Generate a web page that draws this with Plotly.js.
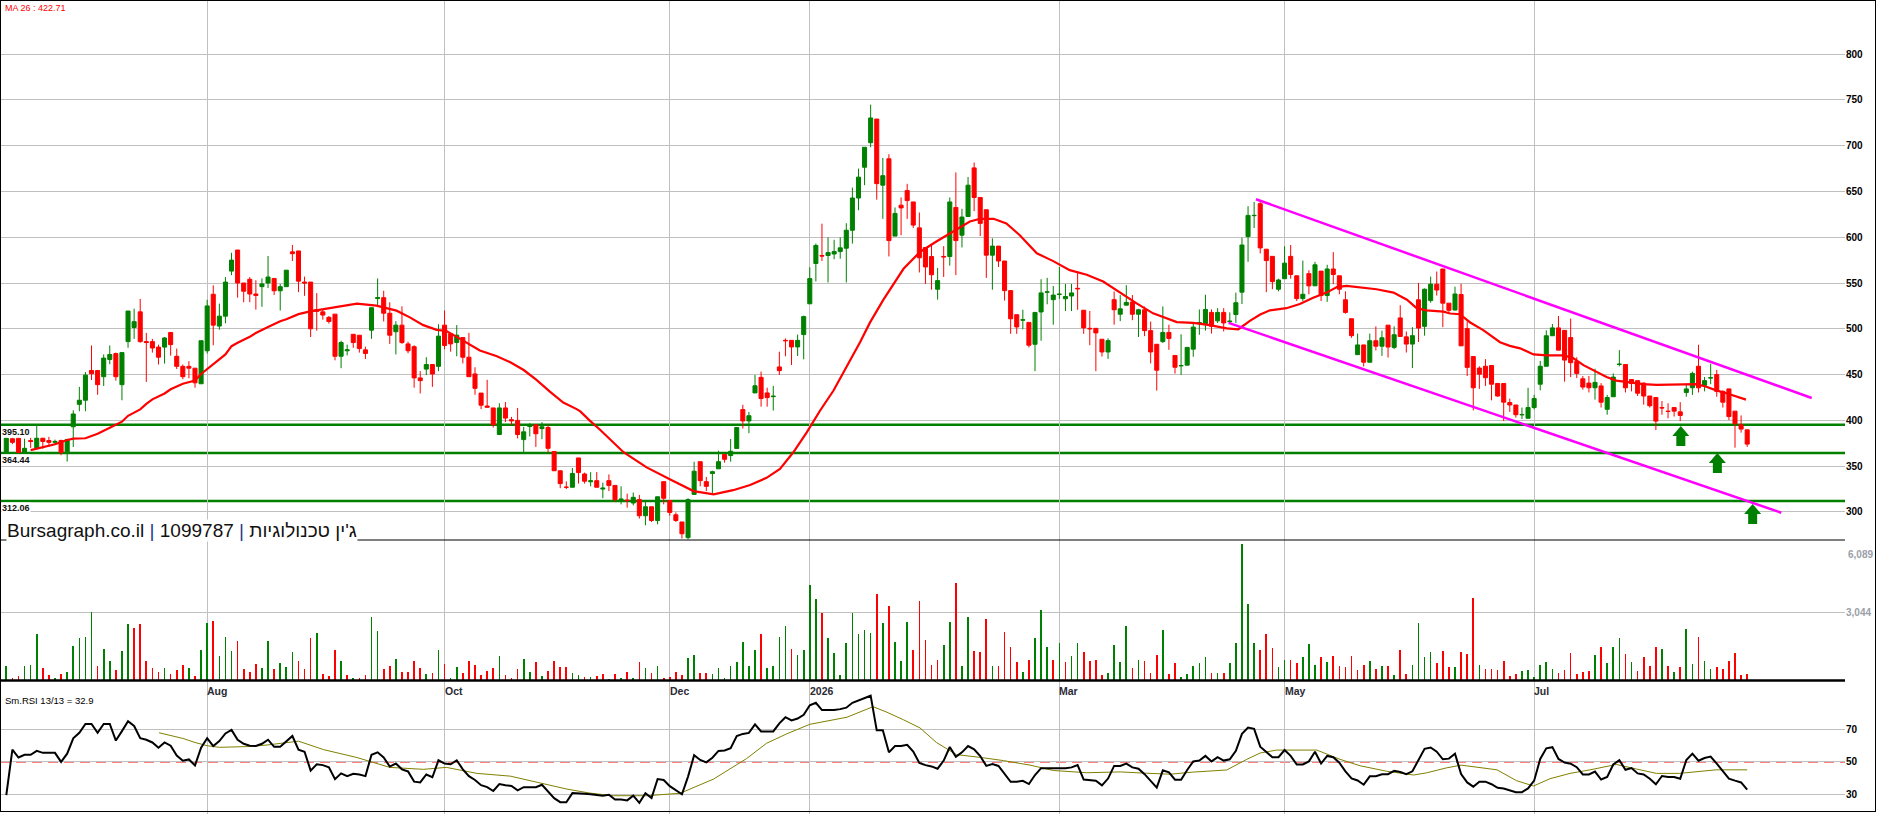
<!DOCTYPE html>
<html><head><meta charset="utf-8">
<script src="https://cdn.plot.ly/plotly-3.0.1.min.js"></script>
<style>
html,body{margin:0;padding:0;background:#fff;}
#wrap{position:relative;width:1880px;height:814px;overflow:hidden;}
#chart{position:absolute;left:0;top:0;width:1880px;height:814px;}
#frame{position:absolute;left:0;top:0;width:1874px;height:810px;border:1.5px solid #000;pointer-events:none;}
</style></head>
<body><div id="wrap"><div id="chart"></div><div id="frame"></div></div>
<script>
// ---------------- data ----------------
const openP = [365,380,380.5,365,378,369.5,380.5,378,376,378,365,393,417.5,422,454.5,454.5,447.7,466.5,472.9,439,
486,501.4,518.5,486,486,480,480,496,470,459,459,457,440,476,537.7,503,513.8,563,586,550,
554,538,546,550,555,541.5,546,584,585,551,551,521,518.5,512.5,516,470,476,494,493,477,
498.5,533,534,517,496.8,504,483.5,480.5,446.4,456,461,459,504,494.6,485,490.4,469,450.7,429.8,415.7,
413.6,384.6,413.6,400.8,400,379,393.4,395.2,391,392.2,366,345,327,327,359,341.5,333,334.2,325,334.2,
329,313,313,309.8,313.5,295.9,305.7,290.7,333.1,312.4,296.9,289.1,272,319.2,354.9,333.1,342,347.1,362.7,361.6,
369.4,411.8,399.4,430,447,430,425.9,458.4,487.4,487.4,480.2,493.7,527.3,571.3,580,580,581.7,584.3,588,607.6,
642.8,676.4,703.2,729,656.8,685.6,601.2,635,650.9,638.5,610.2,588.8,578.9,543.2,579,578.9,632.5,602.2,622.6,675.7,
643.4,630,580.4,590.3,574,541.7,515.4,509.4,507,483.1,518.4,540,531.8,537.5,532.8,535.8,544.2,520.3,500.5,500.5,
488.6,474.7,531.8,515.9,525.8,529.3,515.9,520.8,498,483.1,486,496,470.9,459.5,460.3,477.8,506.3,505.4,517.9,508.7,
517.9,507.7,515.6,540,600.7,623.5,636.6,586.9,579.1,543.2,554.7,579.1,557.9,533,560.2,546.9,563,536.3,565.3,557.9,
531.7,511,471.8,482.4,463.5,487,481,504,479.7,511.9,491.2,483.3,531.7,502.7,530.8,548.7,565.3,528,520.5,537.5,
500.2,469.7,457.1,459.1,459.9,440.3,440.3,419.5,416.8,406,402.3,414,439.5,459.1,492.4,501,498.3,490.4,464.2,445.4,
440.7,435.6,437.6,412.1,425.8,461,461,444.6,443.4,440.7,426.6,425,414,410.1,414,409.3,430.5,435.6,459.1,438.3,
446.2,450.1,431.7,434.4,410.1,395.2,389.7];

const highP = [381,381,381,380,381,395,381,382,379,379,380,411,436.6,452.8,481.8,455,472,481.8,474,474,
519.4,522,532.6,495.5,489,482.7,491,496,478.4,461,464.7,457,487,531.7,547.5,527.5,556.5,583,586,550,
556.5,553,555,579.5,555,549,564,591.5,585,557,551,539,521,514,516,487,482.7,494,493,480.5,
523,555,541.5,529,508.3,524.5,486,482,453.7,469,461,505,520,494.6,504,490.4,495.5,458,429.8,444.3,
413.6,418.7,420,403.8,413.6,393,397,395.2,398,395.2,366,345,333.4,348,359,343,343.5,343.5,332,341,
329,328,320,321.2,318.6,311.4,305.7,316.6,333.1,312.4,299.5,289.1,315,354.9,354.9,338.3,345,366.8,362.7,379.7,
392.2,417,409.3,449.6,453.3,435.7,437.7,475,489.5,487.4,493.7,514.4,567.2,593,614.8,599.8,597.2,599.8,615.3,654.2,
674.9,698.2,744.7,729,686.6,690.6,632.5,643.4,658.3,638.5,627,588.8,591.3,566.5,590.3,643.4,670.7,631,665.8,681.6,
643.4,630,598.8,590.3,574,541.7,515.4,520.8,507,517.9,554.1,555.6,546.7,567.5,549,549,562.5,520.3,519.4,500.5,
488.6,489.6,540.7,536.8,547.7,536.8,521.8,524.3,507.9,483.1,524.5,504.5,470.9,494,479.7,507.3,521.1,537.2,521.1,522.5,
522.5,517.9,539.5,599.4,633.9,638.5,638.5,586.9,579.1,554.7,590.1,591.5,557.9,574.5,563.9,573.1,563,569.9,583.7,557.9,
540.9,511,494.8,482.4,494.8,502.7,498,504,502.7,525.7,497.1,501.8,550.1,544.1,557,562.5,565.3,528,546,549.2,
508,469.7,459.1,466.9,459.9,440.3,440.3,423.8,416.8,414,435.6,427.8,465,498.3,505.3,514,498.3,511.2,468.9,448.5,
448.5,456.4,440.7,427.8,451.3,476.7,461,444.6,443.4,441.5,426.6,425,421.1,418.7,414,419.9,439.5,453.2,482.6,447.3,
461.8,455.2,432.8,434.4,410.1,405.4,389.7];

const lowP = [364,374,364,364,370,368,369,371,374,362,355,371,410,410,444,428,437.5,461.3,443.4,422,
479.3,489,484.8,442,474,461,462,470.7,456,445,446,435.7,440,473,482,499,506,558.6,534,529,
529,521,524,544.5,537,520,546,574,540,536,491,498,510,505.7,465.6,457,471,479.3,474,467,
489,526,508,483.5,472,483.5,473.3,435.7,429.4,449.4,436.6,453.7,477.6,475,470,462.2,447.7,428,412.3,414.4,
392.2,384.6,398.2,395,380.3,365,382.4,371,379.5,365,345,326,325,327,331,331,328,327,315,322.8,
311.4,308.3,304.7,307.2,292.8,285.5,289.1,286.5,308.3,295.9,289.1,271,270,319.2,328,322.8,320,347.1,353.9,354.9,
369.4,391.1,386,430,415,415,410.8,449.6,470,460.5,470.3,466.7,527.3,551.7,574,550.6,576,576.5,550.6,593,
629.4,656.8,698.2,641,620,579,601.2,602.2,620,610.2,561.5,549,542.7,531.8,556.6,569,558.6,588.8,622.6,628.5,
601.2,555.6,542.7,567.5,530.8,494.5,494.5,499.5,479.6,453.8,487,526.8,504.5,532.8,519.4,519.4,520.8,494.5,482.1,453.8,
469.7,467.2,504.5,508.4,525.8,509.4,491,492,462.2,432.5,484.5,477,451.1,449.7,460.3,469.5,493.5,498,494.9,506.4,
497.1,505.4,506.4,527,573.1,610,582.3,540,543.2,540.9,554.7,554.7,530.3,530.3,537.7,546.9,530.3,529.4,548.7,537.7,
516.5,490.2,471.8,458.9,463.5,476.4,470.4,468.6,477.8,491.6,474.1,457.1,485.6,492.5,528.5,536.3,501.8,517.9,520,481.4,
448.5,410.9,434.4,437.6,421.9,425.8,399.2,409.3,403.1,401.5,402.3,412.1,432.8,459.1,492.4,476.7,442.3,447.3,446.2,433.6,
430.5,422.7,414,406.2,425.8,459,430.5,431.7,426.6,417.2,414,389.4,406.2,402.3,404.2,399.2,425.8,427.8,430.5,431.7,
439.5,425.8,414,400.3,370.2,386.6,371];

const closeP = [380.5,376,365,369.5,377,380.5,377,376,377,365,379,407,422,449.4,451,439,468,472,447.7,474,
519.4,507.8,486,485,479,469,490,482.7,459,447.7,457,441,487,525,504,513.8,551,575,550,541,
538,536.4,549,556.5,541.5,546,564,582,552,550,500,519,515,508,470,485,477,485,478.4,473,
523,534,517,493,504,485,476,446.4,443.4,461,450.7,492,481.8,483.5,493,469,447.7,435,416.6,414.4,
395.2,413.6,402.5,399.5,384.6,387.5,394,385.4,393,369.5,345,331,327,342,343,333.6,334,327,326,329,
313.5,314,312.4,316,295.9,305.7,290.7,316.6,315,299.5,290.7,276.2,313.5,344.5,334.2,328,344,354.9,357.5,366.3,
392.2,399.4,405.1,437.8,423.8,424.9,426.4,454.3,487,480.2,487.4,513.3,554.8,591,579.5,583.2,584.3,588.4,607.6,642.8,
665.6,698.2,730.2,658.5,667.2,596.3,626,632,640,613.2,577.5,567.5,559,552.6,578.5,638.5,596.3,622,656.8,643.4,
615.1,580.4,590.3,574,541.7,510.9,502,509.9,482.1,517.9,539.2,540.2,536.8,537.8,535.3,539.2,543.7,501,500,495.5,
474.7,487.1,520.8,521.8,528.8,515.9,520.8,498,474.7,454.8,496,489.5,458,459.9,479.7,501.8,506.7,521.1,502.7,517.9,
506.4,508.3,528.5,591.5,623.8,623.8,588.3,574.5,551.5,553.3,571.7,559.3,533,537.7,546.9,569.9,536.3,565.3,559.3,543.2,
517.9,492.5,482.4,463.5,487,481,490.2,480.1,493.5,491.6,483.3,492.5,500.8,543.2,548.7,542.3,528,520.2,538,481.4,
457.9,435.6,450.5,446.6,439.5,426.6,419.9,416.8,406.2,406.4,414,423.8,459.1,492.4,501,476.7,465.8,463,451.3,436.4,
435.6,441.5,419.9,425,447.3,461.4,435.6,440.3,429.7,426.6,416,399.2,413.6,409.7,410.1,405.4,434.4,451.3,435.6,443.4,
446.6,431.7,419.9,404.2,396.4,390.5,374.1];

const volume = [630,105,175,630,680,2064,542,227,105,280,367,1539,1889,1924,3043,630,1382,857,455,1294,
2501,2326,2501,840,542,367,542,280,455,682,542,192,1347,2571,2623,1084,1924,1294,1749,490,
367,717,542,1749,490,770,595,1259,857,490,1889,2099,262,175,1347,857,227,105,105,227,
2816,2204,490,630,944,367,367,857,542,280,315,1347,717,105,577,315,857,682,227,402,
542,1084,227,105,490,944,367,805,157,402,857,577,577,315,227,120,150,172,257,43,
257,86,365,107,793,536,300,622,107,150,365,214,965,1115,300,300,257,536,107,622,
793,1715,622,1329,2080,536,622,1930,2401,1394,1115,1351,4267,3623,2980,1865,1222,214,1672,2980,
2080,2251,2100,3850,2536,3307,1704,852,2617,1359,3551,1806,690,913,1562,2577,4342,649,2820,1319,
1258,2719,609,609,2130,1461,791,345,893,1867,3145,1461,893,1664,812,1055,1664,1258,852,893,
203,304,1562,812,2435,548,893,852,304,1116,2260,250,761,152,247,628,780,1047,304,304,
304,780,1675,6089,3387,1675,1332,2055,1427,590,913,913,761,1009,1618,666,1009,818,1066,628,
590,1066,438,666,856,476,628,628,209,1332,285,666,2569,1009,1256,761,1294,590,560,1250,
1169,3653,657,497,497,449,849,176,256,417,449,128,657,817,497,320,449,1218,256,368,
384,1121,1490,769,1490,1890,1169,817,417,1009,641,1490,1410,641,368,561,2291,737,1938,849,
481,561,481,849,1218,240,288];

const rsi = [29.5,57.6,52.7,54.4,54.4,56.8,55.6,55.6,55.6,50,55.1,64.6,68,73.4,73.4,68,73.4,73.4,63.2,69,
75.1,72.2,64.6,63.7,62,58.8,62,60,53.9,50.7,51.5,47.8,58.8,64.6,59.8,62.9,67.6,69.8,63.7,61.2,
60,59.8,61.2,63.7,59.3,59.3,62.7,66,57.6,56.3,44.6,48.5,48,46.6,39.3,42.9,41.2,42.7,42.2,41.2,
54.4,55.9,52.7,47.1,49,45.4,44.1,37.8,37.3,42.2,40.5,51,49,48.5,51,45.4,41.2,38.8,35.6,34.4,
32,36.3,35.6,35.1,32.4,34.4,34.4,34.4,35.9,32,27.6,25.1,25.1,30.7,30.7,30.3,30,29.7,29.1,29.7,
26.8,26.8,26.2,29.1,24.7,30.6,27.7,39.4,38.8,35,32.7,30,40.9,54.1,51.2,49.7,52.6,56.8,57.1,58.5,
65.9,67.3,67.9,73.2,68.8,68.8,68.8,73.8,77.6,75.6,76.8,79.1,85,86.5,82,82,82,82.6,83.5,86.5,
87.9,89.4,90.9,69.5,69.6,55.9,59.8,59.8,60.6,56.4,49.4,48,47.2,45.8,50.8,59.2,53.1,55.9,59.8,57.8,
53.6,47.5,48.6,47.5,42.4,37.7,37.7,38.3,36.3,41.9,46.1,46.1,46.1,45.8,46.1,46.6,48,39.1,38.8,38.3,
35.5,39.7,47.5,47.5,48.9,46.6,45.8,42.4,38.3,34.1,44.8,43.5,39,39,45,50.3,50.8,53.7,50.3,52.9,
50.8,51.6,56.8,67.3,71.2,70.4,59.4,56.3,52.9,52.9,57.3,53.7,48.4,48.4,50.3,56.3,49,53.7,52.9,49.5,
44.2,39.8,38.5,35.9,41.1,41.1,42.4,42.4,44.5,43.7,42.4,44.2,51.6,58.1,58.9,56.3,51.6,52,55,42.5,
37.3,34.7,37.8,37.8,36.2,34,33.6,32.4,31.3,31.3,33.6,38.4,51.8,58.4,59.1,51.8,49.6,48.9,46.7,42.2,
42.2,44,39.1,40.7,48.4,51.1,45.1,46.2,42.9,42.2,39.6,36.2,41.3,40.7,40.7,39.6,51.1,55.1,50.7,52.4,
53.3,48.9,44,39.6,38.4,37.3,32.9];

// MA 26 read at sampled positions (candle index, value)
const maIdx = [4,6,8,10,11,13,15,17,18,19,20,22,23,24,26,27,29,31,32,34,36,37,38,40,41,43,45,46,48,
49.9,53.7,57.6,60.8,64.1,66.3,68.5,70.7,72.3,74,76.2,77.8,80.6,82.8,85,87.1,89.3,91.5,93.7,94.3,95.9,97.5,
101.4,105.2,109,112.9,116.2,119.4,122.2,124.9,127.1,129.3,131.5,133.7,135.9,138.1,140.3,141.9,144.1,147.4,150.1,
152.8,155.6,158.3,160,162.2,164.3,166.5,169.3,172,174.7,177.5,180.2,183,185.7,188.4,191.2,
192.3,195,197.7,200.5,202.4,204.3,206,207.6,210.3,212.5,214.7,216.9,218.6,220.2,222.4,225.1,227.9,230.1,231.7,233.3,236.1,
237.2,238.8,240.5,242.7,245.4,247,248.7,250.9,253.1,255.8,257.4,259.1,261.3,262.9,264.5,266.7,268.9,271.1,275.5,277.7,279.3,280.9,282.6,284.2,285.8];
const maVal = [367.5,370.9,373.9,378.6,380,380.5,385.5,392,395.2,398.6,405,412,418,423,429.4,434,440,443.4,450.7,461.3,472,481,484.8,491.2,495.5,501.9,508.3,510.4,516,
519,523.2,527.5,525.3,519.8,512.5,504,498.9,497.6,491.2,482.7,476.3,470,463.5,455,444.3,431.5,419.5,412.3,409.8,399.5,390.1,
365.2,348.7,335.7,322.8,319.2,323.8,329.5,337.3,347.1,365.2,387,410.8,432.6,459,485.9,507,531.8,565.5,583.9,
595.3,606.2,617.1,620.1,620.1,615.1,602.2,582.4,573.9,564,559,551.6,539.2,527.8,516.9,509.4,
507.3,506.4,504,500.4,499.5,508.7,515.6,520.2,522.5,527,534,539.5,545.5,546.9,545.5,543.2,539.5,531.7,522.5,520.2,518.8,
516.7,515.9,506.9,498.3,485.4,481.4,478.7,472,470.9,470.9,468.1,460.3,452.4,447.3,443.4,441.5,439.5,438.7,438.7,439.5,436.8,432.8,429.7,425.8,422.7];

// RSI signal line read at sampled positions
const sigIdx = [25.1,27,29,31,33,35,37,40,43,46,48,52.1,57.6,63,68.5,72.3,77.3,82.8,88.2,92.1,95.9,99.7,105.2,110.7,116.2,121.6,124.9,128.2,132,138.1,142.4,
144.6,147.4,150.1,152.8,156.1,160,163.8,168.2,172,177.5,183,187.3,191.2,195,200.5,203.8,206,208.7,215.3,219.1,222.4,226.8,231.2,233.3,236.6,239,
244.9,248.1,250.9,253.6,256.9,260.2,264.5,267.8,271.1,274.9,278.2,280.9,283.7,286];
const sigVal = [68,66.5,64.5,62,60,59,59.3,59.5,60.5,62,62.8,57.6,52.7,46.6,45.4,46.6,42.9,41.2,36.3,33.2,30.7,29.1,29.1,30.6,39.4,52,61.5,67.3,73.2,77.6,84.1,
80.8,76,71,62,54.5,52.8,50.8,48,44.7,43.3,43.8,43,42.4,43.7,45,51.6,55.5,57.3,57.3,51.6,47.6,44.2,41.9,43.2,46.3,48,
45.1,38.4,35.1,39.6,42.9,45.1,48.4,45.6,42.9,42.9,44,45.1,45.1,45.1];

// month ticks (candle index of first trading day) and labels
const monthIdx = [33,72,109,132,173,210,251];
const monthLabels = ['Aug','Oct','Dec','2026','Mar','May','Jul'];

// horizontal support levels
const levels = [395.10, 364.44, 312.06];
// descending channel (candle index, price)
const chanUpper = [[205.3,641.5],[296.6,424.5]];
const chanLower = [[200.8,506.5],[291.6,299.2]];
// green arrows: candle index and price at arrow tip
const arrowIdx = [275.1, 281.1, 286.9];
const arrowTip = [394, 364.5, 308.8];

const priceTicks = [300,350,400,450,500,550,600,650,700,750,800];
const volTicks = [3044];
const volMaxLabel = 6089;
const rsiTicks = [30,50,70];
const maLast = 422.71;
const rsiLast = 32.9;

// ---------------- drawing ----------------
const H = 814, PLOT_R = 1845;
const yPx = px => 1 - px / H;           // pixel row -> paper y
const GREEN = '#008000', RED = '#ff0000';
const xIdx = closeP.map((_, i) => i);
const volColors = closeP.map((c, i) => (i === 0 || c >= closeP[i - 1]) ? GREEN : RED);
const fmt = v => v.toLocaleString('en-US');

const traces = [
  {type:'candlestick', x:xIdx, open:openP, high:highP, low:lowP, close:closeP,
   xaxis:'x', yaxis:'y', whiskerwidth:0,
   increasing:{line:{color:GREEN, width:1}, fillcolor:GREEN},
   decreasing:{line:{color:RED, width:1}, fillcolor:RED}, hoverinfo:'skip'},
  {type:'scatter', mode:'lines', x:maIdx, y:maVal, xaxis:'x', yaxis:'y',
   line:{color:RED, width:2.2}, hoverinfo:'skip'},
  {type:'bar', x:xIdx, y:volume, xaxis:'x', yaxis:'y2', width:0.27,
   marker:{color:volColors, line:{width:0}}, hoverinfo:'skip'},
  {type:'scatter', mode:'lines', x:sigIdx, y:sigVal, xaxis:'x', yaxis:'y3',
   line:{color:'#808000', width:1}, hoverinfo:'skip'},
  {type:'scatter', mode:'lines', x:xIdx, y:rsi, xaxis:'x', yaxis:'y3',
   line:{color:'#000', width:2}, hoverinfo:'skip'}
];

const tickFont = {family:'Liberation Sans, Arial, sans-serif', size:10, color:'#000', weight:700};
const baseY = {side:'right', anchor:'x', showgrid:true, gridcolor:'#c0c0c0', gridwidth:1,
  zeroline:false, showline:false, ticks:'', automargin:false, fixedrange:true, tickfont:tickFont};

const shapes = [];
// support levels
levels.forEach(v => shapes.push({type:'line', xref:'paper', x0:0, x1:1, yref:'y', y0:v, y1:v,
  line:{color:GREEN, width:2.5}, layer:'between'}));
// channel
[chanUpper, chanLower].forEach(c => shapes.push({type:'line', xref:'x', yref:'y',
  x0:c[0][0], y0:c[0][1], x1:c[1][0], y1:c[1][1], line:{color:'#ff00ff', width:2.5}, layer:'above'}));
// arrows
arrowIdx.forEach((xi, i) => shapes.push({type:'path', xref:'x', yref:'y', xsizemode:'pixel', ysizemode:'pixel',
  xanchor:xi, yanchor:arrowTip[i],
  path:'M0,0 L8.5,-10 L4.5,-10 L4.5,-20 L-4.5,-20 L-4.5,-10 L-8.5,-10 Z',
  fillcolor:GREEN, line:{width:0}, layer:'above'}));
// RSI mid line
shapes.push({type:'line', xref:'paper', x0:0, x1:1, yref:'y3', y0:50, y1:50, line:{color:'#fff', width:2}, layer:'between'});
shapes.push({type:'line', xref:'paper', x0:0, x1:1, yref:'y3', y0:50, y1:50, line:{color:'#ff0000', width:1.3, dash:'10px,6px'}, layer:'between'});
// panel separators
shapes.push({type:'line', xref:'paper', x0:0, x1:1, yref:'paper', y0:yPx(540), y1:yPx(540), line:{color:'#000', width:1}});
shapes.push({type:'line', xref:'paper', x0:0, x1:1, yref:'paper', y0:yPx(680.5), y1:yPx(680.5), line:{color:'#000', width:2.5}});

const annotations = [];
monthIdx.forEach((xi, i) => annotations.push({x:xi, xref:'x', y:yPx(691), yref:'paper', text:monthLabels[i],
  showarrow:false, xanchor:'left', yanchor:'middle', xshift:-2,
  font:{family:'Liberation Sans, Arial, sans-serif', size:10.5, color:'#2a2a35', weight:700}}));
levels.forEach(v => annotations.push({x:0, xref:'paper', y:v, yref:'y', text:v.toFixed(2),
  showarrow:false, xanchor:'left', yanchor:'top', xshift:1, yshift:-1.5, bgcolor:'#fff', borderpad:0,
  font:{family:'Liberation Sans, Arial, sans-serif', size:9, color:'#111', weight:700}}));
annotations.push({x:3/PLOT_R, xref:'paper', y:yPx(7.5), yref:'paper', text:'MA 26 : ' + maLast.toFixed(2),
  showarrow:false, xanchor:'left', yanchor:'middle', font:{family:'Liberation Sans, Arial, sans-serif', size:9, color:'#ff0000'}});
annotations.push({x:3/PLOT_R, xref:'paper', y:yPx(700.5), yref:'paper', text:'Sm.RSI 13/13 = ' + rsiLast,
  showarrow:false, xanchor:'left', yanchor:'middle', font:{family:'Liberation Sans, Arial, sans-serif', size:9.5, color:'#000'}});
annotations.push({x:1, xref:'paper', y:yPx(554), yref:'paper', text:fmt(volMaxLabel),
  showarrow:false, xanchor:'left', yanchor:'middle', xshift:1,
  font:{family:'Liberation Sans, Arial, sans-serif', size:10, color:'#9aa0a8', weight:700}});
annotations.push({x:6/PLOT_R, xref:'paper', y:yPx(530.5), yref:'paper',
  text:'Bursagraph.co.il <span style="color:#1f3c88">|</span> 1099787 <span style="color:#1f3c88">|</span> ג\'ין טכנולוגיות',
  showarrow:false, xanchor:'left', yanchor:'middle', bgcolor:'#fff', borderpad:0,
  font:{family:'Liberation Sans, Arial, sans-serif', size:19, color:'#111'}});

const layout = {
  width:1880, height:H, margin:{l:0, r:1880-PLOT_R, t:0, b:0, pad:0},
  paper_bgcolor:'#fff', plot_bgcolor:'#fff', showlegend:false, hovermode:false,
  boxgap:0.3, boxgroupgap:0.05, bargap:0,
  xaxis:{range:[-1.035, 302.07], tickvals:monthIdx, showticklabels:false, ticks:'',
    showgrid:true, gridcolor:'#c0c0c0', gridwidth:1, zeroline:false, showline:false,
    rangeslider:{visible:false}, fixedrange:true, automargin:false},
  yaxis:Object.assign({}, baseY, {domain:[yPx(540), 1], range:[269.4, 859], tickvals:priceTicks}),
  yaxis2:Object.assign({}, baseY, {domain:[yPx(680), yPx(540)], range:[0, 6267], tickvals:volTicks,
    ticktext:volTicks.map(fmt), tickfont:Object.assign({}, tickFont, {color:'#9aa0a8'})}),
  yaxis3:Object.assign({}, baseY, {domain:[0, yPx(680)], range:[17.8, 100.6], tickvals:rsiTicks, showgrid:true}),
  shapes:shapes, annotations:annotations
};

Plotly.newPlot('chart', traces, layout, {staticPlot:true, displayModeBar:false});
</script></body></html>
